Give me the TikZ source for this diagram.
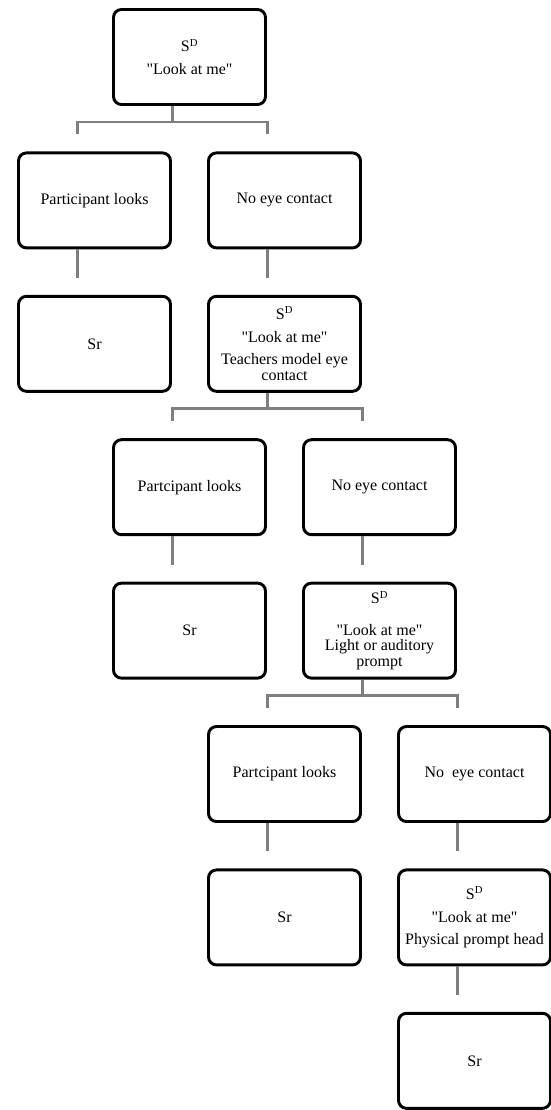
\documentclass[tikz,border=0pt]{standalone}
\usepackage{fontspec}
\setmainfont{Liberation Serif}[Ligatures=TeXOff]
\usepackage{tikz}
\usetikzlibrary{positioning}
\definecolor{linkgray}{RGB}{127,127,127}

\begin{document}
\begin{tikzpicture}[x=0.75pt,y=-0.75pt,node distance=107.55pt and 71.25pt,on grid,
    box/.style={draw,line width=2.2pt,rounded corners=6pt,fill=white,
        minimum width=114pt,minimum height=71.25pt,align=center,
        font=\fontsize{12}{12}\selectfont},
    link/.style={draw=linkgray,line width=2.2pt}]
            \useasboundingbox (0,0) rectangle (550,1110);
            \node[box] (sd1) at (189.5,57) {S\textsuperscript{D}\\[5pt]"Look at me"};
            \node[box] (look1) [below left=of sd1] {Participant looks};
            \node[box] (noeye1) [below right=of sd1] {No eye contact};
            \node[box] (sr1) [below=of look1] {Sr};
            \node[box] (sd2) [below=of noeye1] {S\textsuperscript{D}\\[5pt]"Look at me"\\[5pt]Teachers model eye\\contact};
            \node[box] (look2) [below left=of sd2] {Partcipant looks};
            \node[box] (noeye2) [below right=of sd2] {No eye contact};
            \node[box] (sr2) [below=of look2] {Sr};
            \node[box] (sd3) [below=of noeye2] {S\textsuperscript{D}\\[12pt]"Look at me"\\[-1pt]Light or auditory\\prompt};
            \node[box] (look3) [below left=of sd3] {Partcipant looks};
            \node[box] (noeye3) [below right=of sd3] {No\ \ eye contact};
            \node[box] (sr3) [below=of look3] {Sr};
            \node[box] (sd4) [below=of noeye3] {S\textsuperscript{D}\\[5pt]"Look at me"\\[5pt]Physical prompt head};
            \node[box] (sr4) [below=of sd4] {Sr};
                % forks
                \path[link] ([xshift=-13pt]sd1.south) -- ++(0,16);
                \path[link] ([xshift=-13pt,yshift=12.75pt]look1.north) |- ([xshift=-13pt,yshift=-12pt]sd1.south)
                    -| ([xshift=-13pt,yshift=12.75pt]noeye1.north);
                \path[link] ([xshift=-13pt]sd2.south) -- ++(0,16);
                \path[link] ([xshift=-13pt,yshift=12.75pt]look2.north) |- ([xshift=-13pt,yshift=-12pt]sd2.south)
                    -| ([xshift=-13pt,yshift=12.75pt]noeye2.north);
                \path[link] ([xshift=-13pt]sd3.south) -- ++(0,16);
                \path[link] ([xshift=-13pt,yshift=12.75pt]look3.north) |- ([xshift=-13pt,yshift=-12pt]sd3.south)
                    -| ([xshift=-13pt,yshift=12.75pt]noeye3.north);
                % straight links
                \path[link] ([xshift=-13pt]look1.south) -- ([xshift=-13pt,yshift=12.75pt]sr1.north);
                \path[link] ([xshift=-13pt]noeye1.south) -- ([xshift=-13pt,yshift=12.75pt]sd2.north);
                \path[link] ([xshift=-13pt]look2.south) -- ([xshift=-13pt,yshift=12.75pt]sr2.north);
                \path[link] ([xshift=-13pt]noeye2.south) -- ([xshift=-13pt,yshift=12.75pt]sd3.north);
                \path[link] ([xshift=-13pt]look3.south) -- ([xshift=-13pt,yshift=12.75pt]sr3.north);
                \path[link] ([xshift=-13pt]noeye3.south) -- ([xshift=-13pt,yshift=12.75pt]sd4.north);
                \path[link] ([xshift=-13pt]sd4.south) -- ([xshift=-13pt,yshift=12.75pt]sr4.north);
        \end{tikzpicture}
\end{document}
